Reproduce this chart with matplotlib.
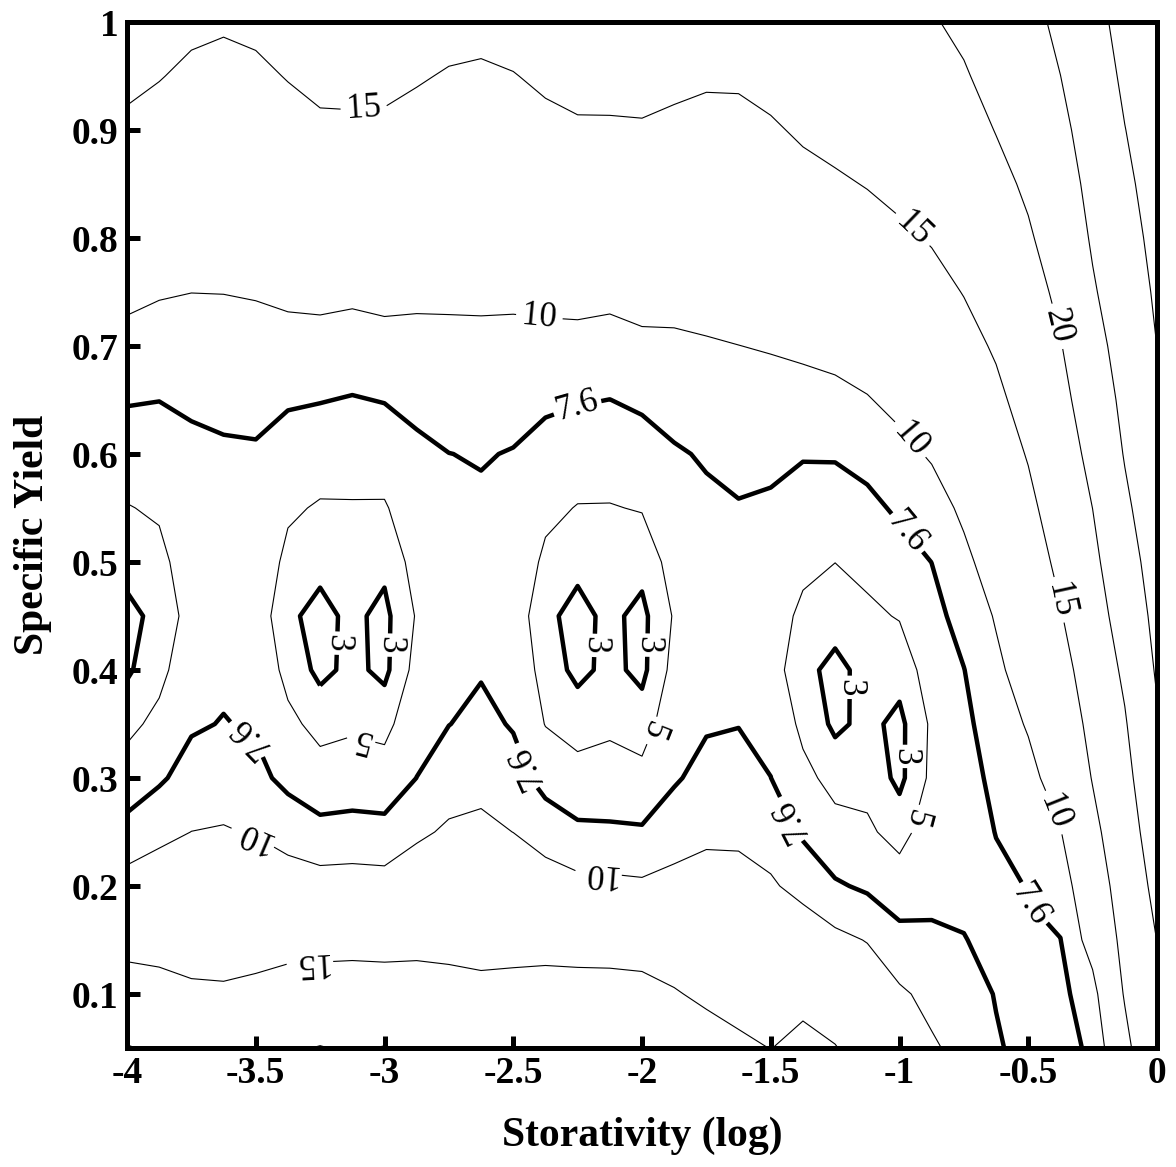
import numpy as np
import matplotlib
matplotlib.use("Agg")
import matplotlib.pyplot as plt

plt.rcParams['font.family'] = 'serif'
plt.rcParams['font.serif'] = ['Liberation Serif', 'DejaVu Serif']
plt.rcParams['axes.unicode_minus'] = False

# ---- data ----
storativity_log = [-4.0, -3.875, -3.75, -3.625, -3.5, -3.375, -3.25, -3.125, -3.0,
                   -2.875, -2.75, -2.625, -2.5, -2.375, -2.25, -2.125, -2.0,
                   -1.875, -1.75, -1.625, -1.5, -1.375, -1.25, -1.125, -1.0,
                   -0.875, -0.75, -0.625, -0.5, -0.375, -0.25, -0.125, 0.0]
specific_yield = [0.05, 0.10, 0.15, 0.20, 0.25, 0.30, 0.35, 0.40, 0.45, 0.50,
                  0.55, 0.60, 0.65, 0.70, 0.75, 0.80, 0.85, 0.90, 0.95, 1.00]

# one list per storativity column, values from specific yield 0.05 up to 1.0
z_columns = [
    [20.2, 16.7, 13.86, 11.02, 8.4, 6.17, 4.36, 2.7, 2.6, 3.5, 4.88, 6.31, 7.77, 9.22, 10.59, 11.86, 13.14, 14.41, 15.7, 17.0],
    [19.5, 16.29, 13.7, 11.52, 9.35, 7.28, 5.65, 4.3, 3.4, 4.3, 5.34, 6.47, 7.63, 8.9, 10.2, 11.43, 12.66, 13.89, 15.13, 16.4],
    [18.4, 15.57, 13.57, 11.79, 10.02, 8.5, 7.33, 6.67, 6.0, 6.42, 6.84, 7.26, 7.82, 8.92, 10.02, 11.13, 12.23, 13.34, 14.45, 15.6],
    [18.2, 15.44, 13.57, 11.87, 10.17, 8.91, 7.70, 7.17, 6.69, 6.85, 7.16, 7.35, 8.05, 9.09, 10.04, 11.09, 12.13, 13.18, 14.23, 15.3],
    [18.6, 15.83, 13.65, 11.73, 9.84, 8.19, 7.33, 6.92, 6.5, 6.81, 7.12, 7.43, 8.06, 9.12, 10.17, 11.24, 12.32, 13.39, 14.46, 15.6],
    [19.6, 16.53, 13.79, 11.36, 8.98, 7.02, 5.58, 4.27, 3.3, 4.37, 5.37, 6.59, 7.84, 9.19, 10.47, 11.63, 12.79, 13.95, 15.13, 16.4],
    [20.15, 16.65, 13.86, 11.02, 8.33, 6.04, 4.26, 2.5, 2.5, 3.45, 4.76, 6.18, 7.69, 9.19, 10.6, 11.89, 13.19, 14.48, 15.75, 17.0],
    [19.6, 16.76, 13.92, 11.08, 8.48, 6.26, 4.63, 3.5, 3.4, 4.12, 4.81, 6.03, 7.46, 8.98, 10.46, 11.81, 13.16, 14.51, 15.82, 17.1],
    [20.15, 16.65, 13.85, 10.98, 8.35, 6.13, 4.30, 2.5, 2.5, 3.45, 4.77, 6.2, 7.69, 9.23, 10.64, 11.91, 13.19, 14.46, 15.73, 17.0],
    [19.5, 16.62, 14.0, 11.73, 9.54, 7.62, 6.69, 5.78, 5.18, 5.86, 6.53, 7.2, 8.08, 9.28, 10.48, 11.67, 12.86, 14.05, 15.25, 16.5],
    [19.0, 16.22, 13.99, 12.17, 10.36, 8.87, 7.56, 7.2, 6.84, 6.91, 7.25, 7.58, 8.52, 9.43, 10.41, 11.51, 12.6, 13.69, 14.78, 16.0],
    [18.6, 15.87, 13.87, 12.22, 10.56, 9.27, 8.16, 7.43, 7.1, 7.02, 7.33, 7.72, 8.6, 9.47, 10.42, 11.47, 12.52, 13.57, 14.62, 15.8],
    [18.8, 16.09, 13.85, 11.92, 9.98, 8.5, 7.42, 6.96, 6.5, 6.83, 7.17, 7.5, 8.33, 9.37, 10.44, 11.56, 12.67, 13.78, 14.89, 16.2],
    [19.9, 16.4, 13.75, 11.25, 8.91, 6.8, 4.91, 4.02, 3.35, 4.5, 5.59, 6.77, 8.0, 9.33, 10.61, 11.83, 13.05, 14.27, 15.51, 16.8],
    [20.1, 16.4, 13.56, 10.69, 8.1, 5.87, 4.09, 2.5, 2.5, 3.4, 4.89, 6.3, 7.76, 9.31, 10.73, 12.03, 13.33, 14.64, 15.92, 17.2],
    [19.5, 16.42, 13.45, 10.57, 8.0, 5.95, 4.58, 3.5, 3.4, 4.22, 4.88, 6.17, 7.58, 9.14, 10.59, 11.95, 13.3, 14.65, 15.94, 17.2],
    [19.3, 16.23, 13.28, 10.4, 7.89, 5.72, 3.94, 2.5, 2.5, 3.6, 5.14, 6.55, 8.0, 9.51, 10.87, 12.15, 13.44, 14.72, 16.0, 17.3],
    [18.0, 15.27, 13.01, 10.8, 8.85, 7.35, 6.53, 5.71, 5.2, 5.92, 6.65, 7.38, 8.42, 9.6, 10.79, 12.0, 13.2, 14.4, 15.67, 17.0],
    [16.7, 14.33, 12.67, 11.0, 9.52, 8.32, 7.38, 6.84, 6.3, 6.76, 7.23, 7.8, 8.8, 9.8, 10.88, 11.98, 13.08, 14.19, 15.35, 16.7],
    [15.6, 13.86, 12.35, 10.84, 9.54, 8.5, 7.53, 7.07, 6.6, 7.03, 7.47, 8.22, 9.11, 9.98, 11.06, 12.12, 13.18, 14.24, 15.37, 16.7],
    [14.95, 13.4, 11.86, 10.31, 8.93, 7.62, 6.93, 6.1, 6.15, 6.81, 7.32, 8.06, 9.1, 10.16, 11.28, 12.41, 13.54, 14.66, 15.91, 17.2],
    [15.8, 14.2, 11.58, 9.2, 7.28, 5.65, 4.44, 3.5, 4.5, 5.55, 6.64, 7.76, 9.13, 10.44, 11.67, 12.91, 14.14, 15.39, 16.7, 18.0],
    [15.15, 13.06, 10.63, 7.89, 5.85, 4.23, 2.6, 2.5, 3.75, 5.02, 6.4, 7.82, 9.35, 10.75, 12.04, 13.32, 14.61, 15.91, 17.2, 18.5],
    [13.5, 11.71, 9.89, 7.23, 5.37, 4.32, 3.5, 3.6, 4.58, 5.57, 6.98, 8.41, 9.86, 11.18, 12.5, 13.82, 15.13, 16.42, 17.71, 19.0],
    [11.6, 10.37, 8.38, 6.19, 4.19, 2.5, 2.5, 3.71, 5.14, 6.59, 8.0, 9.33, 10.64, 11.92, 13.21, 14.49, 15.77, 17.04, 18.32, 19.6],
    [10.3, 9.35, 7.94, 7.02, 6.26, 5.5, 5.35, 6.1, 6.85, 7.62, 8.93, 10.25, 11.5, 12.75, 14.0, 15.22, 16.34, 17.46, 18.58, 19.7],
    [9.3, 8.49, 7.68, 7.05, 6.44, 6.51, 7.03, 7.55, 8.46, 9.42, 10.47, 11.63, 12.79, 13.95, 15.11, 16.25, 17.39, 18.52, 19.66, 20.8],
    [7.8, 7.5, 7.0, 7.12, 7.66, 8.28, 8.89, 9.51, 10.2, 11.22, 12.24, 13.27, 14.29, 15.36, 16.55, 17.74, 18.93, 20.12, 21.31, 22.5],
    [7.0, 7.21, 7.41, 7.68, 8.51, 9.34, 10.2, 11.2, 12.2, 13.2, 14.2, 15.22, 16.3, 17.39, 18.48, 19.57, 20.6, 21.6, 22.6, 23.6],
    [7.3, 7.0, 7.56, 8.52, 9.87, 11.1, 12.32, 13.54, 14.76, 15.8, 16.8, 17.8, 18.8, 19.8, 20.83, 21.88, 22.92, 23.96, 24.98, 26.0],
    [7.75, 9.0, 11.22, 12.57, 13.92, 15.19, 16.15, 17.12, 18.08, 19.04, 20.02, 21.14, 22.27, 23.41, 24.55, 25.46, 26.22, 26.98, 27.74, 28.5],
    [13.8, 15.34, 16.21, 17.07, 17.93, 18.79, 19.66, 20.7, 21.87, 23.04, 24.21, 25.25, 26.03, 26.81, 27.59, 28.36, 29.14, 29.92, 30.71, 31.5],
    [19.5, 19.75, 20.05, 21.14, 22.27, 23.41, 24.55, 25.45, 26.21, 26.97, 27.73, 28.48, 29.24, 30.02, 30.58, 31.17, 31.75, 32.33, 32.92, 33.5],
]

thin_levels = [5, 10, 15, 20, 25, 30]
thick_levels = [3, 7.6]

x_ticks = [-4, -3.5, -3, -2.5, -2, -1.5, -1, -0.5, 0]
x_tick_labels = ['-4', '-3.5', '-3', '-2.5', '-2', '-1.5', '-1', '-0.5', '0']
y_ticks = [0.1, 0.2, 0.3, 0.4, 0.5, 0.6, 0.7, 0.8, 0.9, 1.0]
y_tick_labels = ['0.1', '0.2', '0.3', '0.4', '0.5', '0.6', '0.7', '0.8', '0.9', '1']

# label placement (annotation layout, not data); flag = label drawn upside down
thin_label_spots = [(-3.10, 0.328), (-1.94, 0.342), (-0.92, 0.261),
                    (-2.40, 0.724), (-0.96, 0.613), (-3.51, 0.245), (-2.17, 0.208), (-0.40, 0.268),
                    (-3.08, 0.919), (-0.96, 0.805), (-0.38, 0.465), (-3.29, 0.13),
                    (-0.39, 0.718)]
thin_label_flip = [True, True, True,
                   False, False, True, True, False,
                   False, False, False, True,
                   False]
thick_label_spots = [(-2.25, 0.643), (-0.97, 0.527), (-3.55, 0.329), (-2.46, 0.31),
                     (-1.43, 0.261), (-0.47, 0.187),
                     (-3.20, 0.425), (-2.97, 0.423), (-2.21, 0.423), (-1.97, 0.423),
                     (-1.22, 0.384), (-0.98, 0.32)]
thick_label_flip = [False, False, True, True,
                    True, False,
                    True, True, True, True,
                    True, True]

assert len(z_columns) == len(storativity_log)
assert all(len(c) == len(specific_yield) for c in z_columns)

X, Y = np.meshgrid(np.array(storativity_log), np.array(specific_yield))
Z = np.array(z_columns).T

fig = plt.figure(figsize=(11.76, 11.67), dpi=100)
ax = fig.add_axes([127 / 1176, 1 - 1048 / 1167, 1030 / 1176, 1026 / 1167])

cs_thin = ax.contour(X, Y, Z, levels=thin_levels, colors='black', linewidths=0.8)
cs_thick = ax.contour(X, Y, Z, levels=thick_levels, colors='black', linewidths=3.2)

fmt = lambda v: f"{v:g}"
thin_texts = ax.clabel(cs_thin, fmt=fmt, fontsize=25, inline=True, inline_spacing=6,
                       manual=thin_label_spots)
thick_texts = ax.clabel(cs_thick, fmt=fmt, fontsize=25, inline=True, inline_spacing=3,
                        manual=thick_label_spots)
for texts, flips in ((thin_texts, thin_label_flip), (thick_texts, thick_label_flip)):
    for t, f in zip(texts, flips):
        if f:
            t.set_rotation(t.get_rotation() + 180)

ax.set_xlim(-4, 0)
ax.set_ylim(0.05, 1.0)
ax.set_xticks(x_ticks, x_tick_labels)
ax.set_yticks(y_ticks, y_tick_labels)
ax.tick_params(axis='both', direction='in', length=9, width=3.6, labelsize=27,
               top=False, right=False, pad=6)
for lab in ax.get_xticklabels() + ax.get_yticklabels():
    lab.set_fontweight('bold')
for sp in ax.spines.values():
    sp.set_linewidth(3.6)

ax.set_xlabel('Storativity (log)', fontsize=30, fontweight='bold', labelpad=18)
ax.set_ylabel('Specific Yield', fontsize=30, fontweight='bold', labelpad=14)

fig.savefig('out.png', dpi=100)
